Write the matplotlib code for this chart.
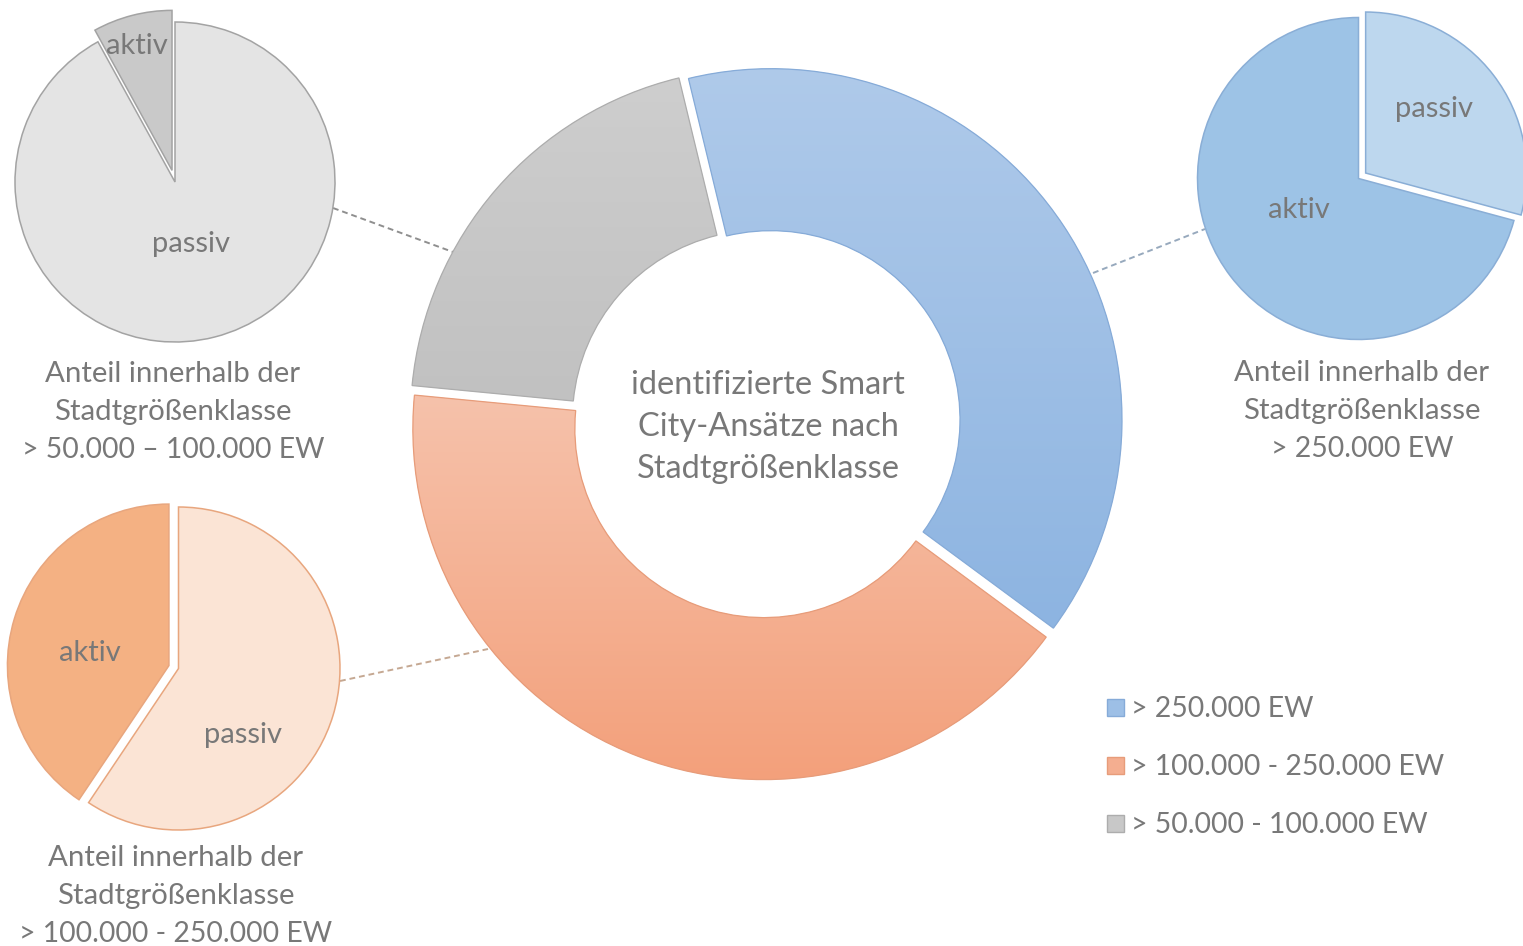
import numpy as np
import matplotlib
matplotlib.use("Agg")
import matplotlib.pyplot as plt
import matplotlib.patches as mpatches
from matplotlib.colors import to_rgb

# ---------------- data ----------------
classes = ["> 250.000 EW", "> 100.000 - 250.000 EW", "> 50.000 - 100.000 EW"]
share_pct = [38.9, 41.4, 19.7]          # donut: share of identified approaches per class

slice_names = ["passiv", "aktiv"]
big_city = [29.2, 70.8]                  # > 250.000 EW
mid_city = [59.4, 40.6]                  # > 100.000 - 250.000 EW
small_city = [92.0, 8.0]                 # > 50.000 - 100.000 EW

center_title = ["identifizierte Smart", "City-Ansätze nach", "Stadtgrößenklasse"]
caption_big = ["Anteil innerhalb der", "Stadtgrößenklasse", "> 250.000 EW"]
caption_mid = ["Anteil innerhalb der", "Stadtgrößenklasse", "> 100.000 - 250.000 EW"]
caption_small = ["Anteil innerhalb der", "Stadtgrößenklasse", "> 50.000 – 100.000 EW"]

# ---------------- style ----------------
W, H = 1523, 946
FONT = "Lato"
TXT = "#787878"
grad = {  # top, bottom colors for donut gradient
    0: ("#afcaea", "#8db4e1"),
    1: ("#f6c2ab", "#f3a07b"),
    2: ("#cecece", "#c1c1c1"),
}
donut_edge = ["#86abd8", "#e79c7a", "#adadad"]
legend_face = ["#9dbfe6", "#f4ae90", "#c8c8c8"]

fig = plt.figure(figsize=(W / 100, H / 100), dpi=100)
ax = fig.add_axes([0, 0, 1, 1])


def deg_from_top(d):
    # inverted y axis: clockwise on screen from 12 o'clock
    return 270 + d


# ---------------- donut ----------------
dc = (766, 423)
R, RW = 351, 162
wedges, _ = ax.pie(share_pct, center=dc, radius=R, startangle=deg_from_top(-13.6),
                   counterclock=True, explode=[6, 6, 6], frame=True,
                   colors=legend_face,
                   wedgeprops=dict(width=RW, linewidth=0))
for i, w in enumerate(wedges):
    w.set_zorder(2)
    ext = w.get_path().get_extents()
    top, bot = grad[i]
    n = 256
    t = np.linspace(0, 1, n)[:, None]
    img = (1 - t) * np.array(to_rgb(top)) + t * np.array(to_rgb(bot))
    img = img[:, None, :]
    im = ax.imshow(img, extent=(ext.x0, ext.x1, ext.y1, ext.y0), origin="upper",
                   aspect="auto", zorder=2.1, interpolation="bilinear")
    im.set_clip_path(w)
    ax.add_patch(mpatches.PathPatch(w.get_path(), fc="none", ec=donut_edge[i],
                                    lw=0.9, zorder=2.2))

# ---------------- side pies ----------------
def side_pie(vals, center, radius, colors, edge, explode):
    ws, _ = ax.pie(vals, center=center, radius=radius, startangle=deg_from_top(0),
                   counterclock=True, explode=explode, colors=colors, frame=True,
                   wedgeprops=dict(edgecolor=edge, linewidth=1.1))
    for w in ws:
        w.set_zorder(2)
    return ws

side_pie(small_city, (175, 182), 160, ["#e4e4e4", "#c9c9c9"], "#a3a3a3", [0, 12])
side_pie(big_city, (1358.5, 178.5), 161, ["#bdd7ee", "#9dc3e6"], "#8aaed6", [9, 0])
side_pie(mid_city, (178.5, 668.5), 161.5, ["#fbe4d5", "#f4b183"], "#e8a67e", [0, 10])

# slice labels
lab_kw = dict(family=FONT, color=TXT, fontsize=21, ha="center", va="center", zorder=5)
ax.text(137, 46, slice_names[1], **lab_kw)
ax.text(191, 244, slice_names[0], **lab_kw)
ax.text(1434, 109, slice_names[0], **lab_kw)
ax.text(1299, 210, slice_names[1], **lab_kw)
ax.text(90, 653, slice_names[1], **lab_kw)
ax.text(243, 735, slice_names[0], **lab_kw)

# connectors
ax.plot([333, 453], [208, 252], ls=(0, (3, 2)), lw=1.4, color="#8f8f8f", zorder=1)
ax.plot([1093, 1205], [273, 229], ls=(0, (3, 2)), lw=1.4, color="#97a9bd", zorder=1)
ax.plot([340, 488], [681, 649], ls=(0, (3, 2)), lw=1.4, color="#c5a892", zorder=1)

# captions
cap_kw = dict(family=FONT, color=TXT, ha="center", va="center")
def caption(x, y0, lines):
    for k, line in enumerate(lines):
        fs = 20.4 if k == 2 else 21.2
        ax.text(x, y0 + 38 * k, line, fontsize=fs, **cap_kw)

caption(173, 374, caption_small)
caption(1362, 373, caption_big)
caption(176, 858, caption_mid)
for k, line in enumerate(center_title):
    ax.text(768, 385 + 42 * k, line, family=FONT, color=TXT, fontsize=23.5,
            ha="center", va="center")

# legend
for i, (lab, fc) in enumerate(zip(classes, legend_face)):
    y = 708 + 58 * i
    ax.add_patch(mpatches.Rectangle((1107, y - 8.5), 17, 17, fc=fc, ec=donut_edge[i], lw=1))
    ax.text(1131, y + 1, lab, family=FONT, color=TXT, fontsize=20.4, ha="left", va="center")

ax.set_xlim(0, W)
ax.set_ylim(H, 0)
ax.set_aspect("equal")
ax.axis("off")
fig.savefig("out.png", dpi=100, facecolor="white")
